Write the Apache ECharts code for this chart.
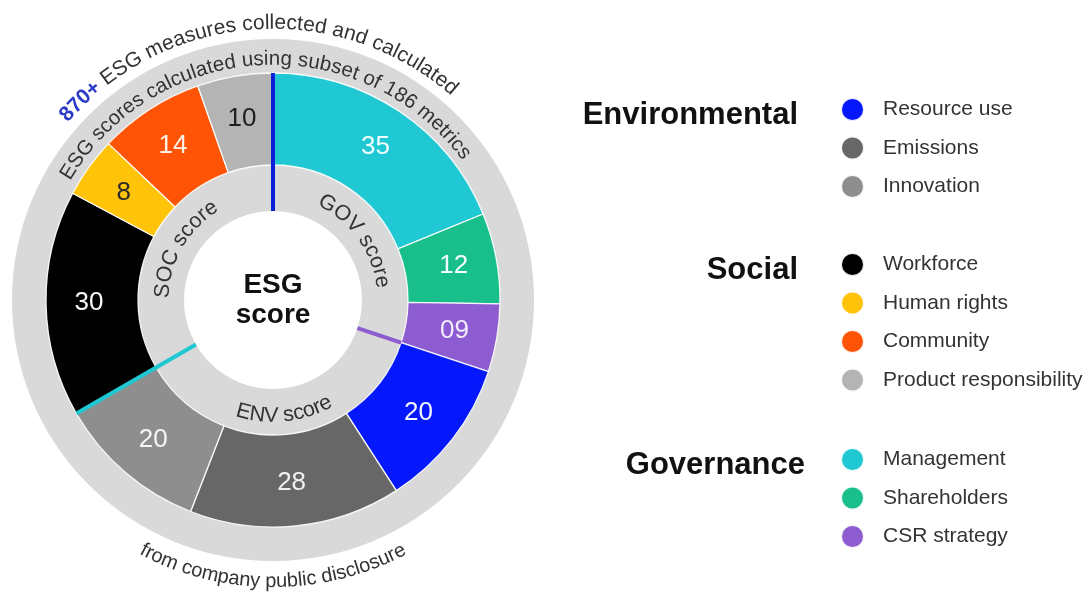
<!DOCTYPE html>
<html>
<head>
<meta charset="utf-8">
<title>ESG score composition</title>
<script src="https://cdn.jsdelivr.net/npm/echarts@6/dist/echarts.min.js"></script>
<style>
  html, body { margin: 0; padding: 0; background: #ffffff; }
  #chart { width: 1091px; height: 594px; }
</style>
</head>
<body>
<div id="chart"></div>
<script>
// ---- Data: ESG categories, clockwise from 12 o'clock ----
const categories = ['Management', 'Shareholders', 'CSR strategy',
  'Resource use', 'Emissions', 'Innovation',
  'Workforce', 'Human rights', 'Community', 'Product responsibility'];
const metricCounts = [35, 12, 9, 20, 28, 20, 30, 8, 14, 10];
const countLabels = ['35', '12', '09', '20', '28', '20', '30', '8', '14', '10'];

// Pillars (inner ring), each made of consecutive categories above
const pillarNames = ['GOV score', 'ENV score', 'SOC score'];
const pillarSizes = [3, 3, 4];

// Legend groups
const envItems = ['Resource use', 'Emissions', 'Innovation'];
const socItems = ['Workforce', 'Human rights', 'Community', 'Product responsibility'];
const govItems = ['Management', 'Shareholders', 'CSR strategy'];
const groupTitles = ['Environmental', 'Social', 'Governance'];

// ---- Styling ----
const sliceColors = ['#1fc8d2', '#19bf8b', '#8d5cd1', '#0418fb', '#676767',
  '#8e8e8e', '#000000', '#ffc30a', '#ff5305', '#b4b4b4'];
const labelColors = ['#f2ffff', '#f2fffa', '#f3ecff', '#f2f4ff', '#f0f0f0',
  '#f5f5f5', '#f5f5f5', '#2a2a2a', '#fff3ea', '#1e1e1e'];
const RING_GRAY = '#d9d9d9';
const TEXT_DARK = '#333333';
const FONT = '"Liberation Sans", Arial, Helvetica, sans-serif';

const CX = 273, CY = 300;
const R_RING = 261, R_SEG_OUT = 227, R_SEG_IN = 135, R_CORE = 89;

const chart = echarts.init(document.getElementById('chart'), null, { renderer: 'canvas' });

// ---- Angles derived from the data ----
const total = metricCounts.reduce((a, b) => a + b, 0);
const pillarStarts = [], pillarEnds = [];
{
  let i = 0, acc = 0;
  pillarSizes.forEach(n => {
    pillarStarts.push(acc / total * 360);
    for (let k = 0; k < n; k++) acc += metricCounts[i++];
    pillarEnds.push(acc / total * 360);
  });
}
const rad = d => d * Math.PI / 180;
const polar = (deg, r) => [CX + r * Math.sin(rad(deg)), CY - r * Math.cos(rad(deg))];

// ---- Text set along an arc, one glyph per element ----
const measureCtx = document.createElement('canvas').getContext('2d');
function arcText(runs, centerDeg, rMid, size) {
  const chars = [];
  runs.forEach(run => {
    const weight = run.weight || 'normal';
    measureCtx.font = weight + ' ' + size + 'px ' + FONT;
    for (const ch of run.text) {
      chars.push({ ch, w: measureCtx.measureText(ch).width, weight, color: run.color || TEXT_DARK });
    }
  });
  const width = chars.reduce((s, c) => s + c.w, 0);
  const c = rad(centerDeg);
  const lower = Math.cos(c) < 0;            // lower half: glyph tops face the centre
  const dir = lower ? -1 : 1;
  const rBase = rMid - dir * 0.34 * size;   // baseline radius used for advances
  let cum = 0;
  return chars.map(o => {
    const t = c + dir * ((cum + o.w / 2) - width / 2) / rBase;
    cum += o.w;
    return {
      type: 'text', silent: true, z: 20,
      x: CX + rMid * Math.sin(t), y: CY - rMid * Math.cos(t),
      rotation: lower ? Math.PI - t : -t,
      style: {
        text: o.ch, fill: o.color, fontSize: size, fontWeight: o.weight,
        fontFamily: FONT, align: 'center', verticalAlign: 'middle'
      }
    };
  });
}

// ---- Pillar dividers ----
const dividers = [
  { pillar: 2, color: '#0a1fd6', outer: R_SEG_OUT },  // SOC | GOV
  { pillar: 0, color: '#8d5cd1', outer: R_SEG_IN },   // GOV | ENV
  { pillar: 1, color: '#1fc8d2', outer: R_SEG_OUT }   // ENV | SOC
];
const dividerEls = dividers.map(d => {
  const a = pillarEnds[d.pillar] % 360;
  const p1 = polar(a, R_CORE), p2 = polar(a, d.outer);
  return {
    type: 'line', silent: true, z: 15,
    shape: { x1: p1[0], y1: p1[1], x2: p2[0], y2: p2[1] },
    style: { stroke: d.color, lineWidth: 4 }
  };
});

// ---- Pillar names on the inner ring ----
const pillarTextEls = [];
pillarNames.forEach((name, i) => {
  const mid = (pillarStarts[i] + pillarEnds[i]) / 2;
  const lower = Math.cos(rad(mid)) < 0;
  pillarTextEls.push(...arcText([{ text: name }], mid, lower ? 116 : 110.5, 21.5));
});

// ---- Captions around the ring ----
const captionEls = [
  ...arcText([{ text: '870+', weight: 'bold', color: '#2a3bc6' },
              { text: ' ESG measures collected and calculated' }], -4, 277, 21),
  ...arcText([{ text: 'ESG scores calculated using subset of 186 metrics' }], -3, 241, 20.5),
  ...arcText([{ text: 'from company public disclosure' }], 180, 281.5, 20)
];

// ---- Legend group headings ----
const headingY = [115, 270, 465];
const headingRight = [798, 798, 805];
const headingEls = groupTitles.map((t, i) => ({
  type: 'text', silent: true,
  x: headingRight[i], y: headingY[i],
  style: {
    text: t, fill: '#111111', fontSize: 31, fontWeight: 'bold',
    fontFamily: FONT, align: 'right', verticalAlign: 'middle'
  }
}));

const legendTops = [92, 247, 442];
const legends = [envItems, socItems, govItems].map((items, i) => ({
  data: items,
  orient: 'vertical',
  left: 835,
  top: legendTops[i],
  icon: 'circle',
  itemWidth: 23,
  itemHeight: 23,
  itemGap: 13.5,
  selectedMode: false,
  textStyle: { fontSize: 21, color: TEXT_DARK, fontFamily: FONT, padding: [0, 0, 0, 14] }
}));

chart.setOption({
  animation: false,
  backgroundColor: '#ffffff',
  legend: legends,
  series: [
    {
      // light grey backdrop: outer caption ring and inner pillar ring
      type: 'pie', silent: true, center: [CX, CY], radius: [0, R_RING],
      label: { show: false }, labelLine: { show: false },
      data: [{ value: 1, name: 'ring', itemStyle: { color: RING_GRAY } }]
    },
    {
      type: 'pie',
      center: [CX, CY],
      radius: [R_SEG_IN, R_SEG_OUT],
      startAngle: 90,
      clockwise: true,
      avoidLabelOverlap: false,
      emphasis: { disabled: true },
      itemStyle: { borderColor: 'rgba(255,255,255,0.9)', borderWidth: 1.3 },
      label: {
        show: true, position: 'inside', fontSize: 26, fontFamily: FONT,
        formatter: p => countLabels[p.dataIndex]
      },
      labelLine: { show: false },
      data: categories.map((name, i) => ({
        name, value: metricCounts[i],
        itemStyle: { color: sliceColors[i] },
        label: { color: labelColors[i] }
      }))
    },
    {
      // white core carrying the overall score title
      type: 'pie', silent: true, center: [CX, CY], radius: [0, R_CORE],
      labelLine: { show: false },
      label: {
        show: true, position: 'center', formatter: 'ESG\nscore',
        fontSize: 28, fontWeight: 'bold', lineHeight: 30, color: '#111111', fontFamily: FONT
      },
      data: [{ value: 1, name: 'core', itemStyle: { color: '#ffffff' } }]
    }
  ],
  graphic: [...dividerEls, ...pillarTextEls, ...captionEls, ...headingEls]
});
</script>
</body>
</html>
